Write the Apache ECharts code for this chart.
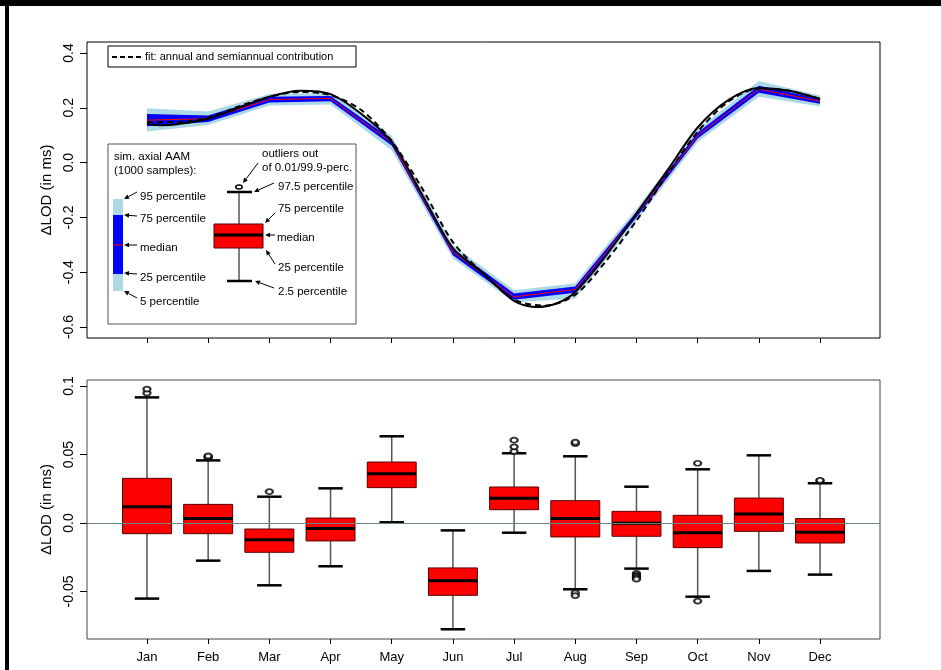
<!DOCTYPE html>
<html><head><meta charset="utf-8">
<script src="https://cdn.jsdelivr.net/npm/echarts@6/dist/echarts.min.js"></script>
<style>html,body{margin:0;padding:0;background:#fff}#c{width:941px;height:670px}</style>
</head><body><div id="c"></div>
<script>
// ---------------- data ----------------
const months = ['Jan','Feb','Mar','Apr','May','Jun','Jul','Aug','Sep','Oct','Nov','Dec'];
const monthPos = [1,2,3,4,5,6,7,8,9,10,11,12];

// top panel: simulated axial AAM percentiles (1000 samples)
const simP05    = [0.113, 0.137, 0.208, 0.212, 0.045, -0.350, -0.510, -0.496, -0.212, 0.075, 0.240, 0.205];
const simP25    = [0.133, 0.148, 0.219, 0.224, 0.062, -0.338, -0.500, -0.475, -0.200, 0.088, 0.255, 0.215];
const simMedian = [0.155, 0.160, 0.230, 0.234, 0.073, -0.326, -0.490, -0.463, -0.190, 0.098, 0.268, 0.224];
const simP75    = [0.177, 0.172, 0.240, 0.243, 0.085, -0.314, -0.478, -0.452, -0.180, 0.110, 0.280, 0.233];
const simP95    = [0.198, 0.186, 0.250, 0.255, 0.098, -0.302, -0.466, -0.440, -0.168, 0.122, 0.298, 0.245];

// top panel: solid black curve
const obsX   = [1, 1.25, 1.5, 2, 2.5, 3, 3.5, 4, 4.5, 5, 5.5, 6, 6.5, 7, 7.35, 7.7, 8, 8.5, 9, 9.5, 10, 10.5, 11, 11.5, 12];
const obsLOD = [0.142, 0.136, 0.140, 0.160, 0.200, 0.240, 0.262, 0.250, 0.178, 0.075, -0.118, -0.312, -0.405, -0.505, -0.527, -0.513, -0.472, -0.340, -0.185, -0.030, 0.128, 0.228, 0.272, 0.262, 0.232];

// top panel: dashed fit (annual and semiannual contribution)
const fitX   = [1, 1.5, 2, 2.5, 3, 3.5, 4, 4.5, 5, 5.5, 6, 6.5, 7, 7.5, 8, 8.5, 9, 9.5, 10, 10.5, 11, 11.5, 12];
const fitLOD = [0.148, 0.148, 0.165, 0.205, 0.240, 0.258, 0.246, 0.192, 0.078, -0.095, -0.290, -0.405, -0.500, -0.522, -0.482, -0.360, -0.212, -0.045, 0.112, 0.222, 0.270, 0.262, 0.232];

// bottom panel: box plots
const whiskerLow  = [-0.0552, -0.0275, -0.0455, -0.0316, 0.0005, -0.0776, -0.0071, -0.0484, -0.0333, -0.0538, -0.0350, -0.0377];
const boxQ1       = [-0.0078, -0.0078, -0.0214, -0.0131, 0.0258, -0.0528, 0.0097, -0.0102, -0.0097, -0.0180, -0.0061, -0.0146];
const boxMedian   = [0.0119, 0.0032, -0.0122, -0.0041, 0.0360, -0.0421, 0.0180, 0.0032, -0.0002, -0.0071, 0.0066, -0.0068];
const boxQ3       = [0.0326, 0.0136, -0.0044, 0.0036, 0.0445, -0.0328, 0.0263, 0.0163, 0.0085, 0.0056, 0.0182, 0.0032];
const whiskerHigh = [0.0917, 0.0457, 0.0192, 0.0253, 0.0633, -0.0054, 0.0509, 0.0487, 0.0265, 0.0392, 0.0494, 0.0290];
const outlierMonth = [1, 1, 2, 2, 2, 3, 7, 7, 7, 8, 8, 8, 8, 9, 9, 9, 9, 9, 10, 10, 12, 12];
const outlierValue = [0.0949, 0.0978, 0.0475, 0.0483, 0.0490, 0.0229, 0.0522, 0.0556, 0.0605, 0.0580, 0.0590, -0.0510, -0.0530, -0.0368, -0.0380, -0.0390, -0.0400, -0.0410, 0.0436, -0.0570, 0.0307, 0.0312];

// tick labels
const topTicks = [-0.6, -0.4, -0.2, 0, 0.2, 0.4];
const topTickLabels = ['-0.6', '-0.4', '-0.2', '0.0', '0.2', '0.4'];
const bottomTicks = [-0.05, 0, 0.05, 0.1];
const bottomTickLabels = ['-0.05', '0.0', '0.05', '0.1'];

// ---------------- chart ----------------
const FONT = 'Liberation Sans, Arial, Helvetica, sans-serif';
function lookup(ticks, labels, v) {
  let best = 0;
  for (let i = 1; i < ticks.length; i++) if (Math.abs(ticks[i] - v) < Math.abs(ticks[best] - v)) best = i;
  return labels[best];
}
function band(lo, hi, color) {
  return {
    type: 'custom', xAxisIndex: 0, yAxisIndex: 0, data: [[1, 0]], silent: true, z: 2,
    renderItem: function (params, api) {
      const pts = [];
      for (let i = 0; i < monthPos.length; i++) pts.push(api.coord([monthPos[i], hi[i]]));
      for (let i = monthPos.length - 1; i >= 0; i--) pts.push(api.coord([monthPos[i], lo[i]]));
      return { type: 'polygon', shape: { points: pts }, style: { fill: color } };
    }
  };
}
function arrow(x1, y1, x2, y2) {
  const a = Math.atan2(y2 - y1, x2 - x1), L = 5, W = 2.3;
  const bx = x2 - L * Math.cos(a), by = y2 - L * Math.sin(a);
  const px = -Math.sin(a) * W, py = Math.cos(a) * W;
  return [
    { type: 'line', z: 101, shape: { x1: x1, y1: y1, x2: bx, y2: by }, style: { stroke: '#000', lineWidth: 1 } },
    { type: 'polygon', z: 101, shape: { points: [[x2, y2], [bx + px, by + py], [bx - px, by - py]] }, style: { fill: '#000' } }
  ];
}
function txt(t, x, y, size) {
  return { type: 'text', z: 101, style: { text: t, x: x, y: y, fill: '#000', fontSize: size || 11.5, fontFamily: FONT, align: 'left', verticalAlign: 'middle' } };
}
function ln(x1, y1, x2, y2, w, c) {
  return { type: 'line', z: 101, shape: { x1: x1, y1: y1, x2: x2, y2: y2 }, style: { stroke: c || '#000', lineWidth: w } };
}

const graphics = [
  { type: 'rect', z: 100, shape: { x: 0, y: 0, width: 941, height: 6 }, style: { fill: '#000' } },
  { type: 'rect', z: 100, shape: { x: 5, y: 0, width: 4, height: 670 }, style: { fill: '#000' } },
  // top legend
  { type: 'rect', z: 100, shape: { x: 108, y: 46, width: 248, height: 21 }, style: { fill: '#fff', stroke: '#000', lineWidth: 1 } },
  { type: 'line', z: 101, shape: { x1: 112, y1: 57, x2: 141, y2: 57 }, style: { stroke: '#000', lineWidth: 2, lineDash: [5, 3] } },
  txt('fit: annual and semiannual contribution', 145, 57, 11),
  // inset legend
  { type: 'rect', z: 100, shape: { x: 108, y: 144, width: 248, height: 180 }, style: { fill: '#fff', stroke: '#555', lineWidth: 1 } },
  txt('sim. axial AAM', 114, 157), txt('(1000 samples):', 114, 171),
  { type: 'rect', z: 101, shape: { x: 113, y: 199, width: 10, height: 92 }, style: { fill: '#ADD8E6' } },
  { type: 'rect', z: 101, shape: { x: 113, y: 215, width: 10, height: 59 }, style: { fill: '#0000FF' } },
  ln(113, 245, 123, 245, 1, '#ff0000'),
  txt('95 percentile', 140, 197), txt('75 percentile', 140, 219), txt('median', 140, 248),
  txt('25 percentile', 140, 278), txt('5 percentile', 140, 302),
  ...arrow(137, 192, 124, 199), ...arrow(137, 216, 124, 215), ...arrow(137, 245, 124, 245),
  ...arrow(137, 274, 124, 273), ...arrow(137, 298, 124, 291),
  { type: 'ellipse', z: 101, shape: { cx: 239, cy: 187, rx: 3.2, ry: 2 }, style: { fill: '#fff', stroke: '#000', lineWidth: 1.5 } },
  ln(239, 192, 239, 281, 1),
  ln(227, 192, 252, 192, 2.5), ln(227, 281, 252, 281, 2.5),
  { type: 'rect', z: 101, shape: { x: 214, y: 224, width: 49, height: 24 }, style: { fill: '#ff0000', stroke: '#500', lineWidth: 1 } },
  ln(214, 235, 263, 235, 3),
  txt('outliers out', 262, 154), txt('of 0.01/99.9-perc.', 262, 168),
  txt('97.5 percentile', 278, 187), txt('75 percentile', 278, 209), txt('median', 277, 238),
  txt('25 percentile', 278, 268), txt('2.5 percentile', 278, 292),
  ...arrow(258, 163, 243, 183), ...arrow(274, 183, 254, 192), ...arrow(275, 213, 265, 223),
  ...arrow(275, 235, 265, 235), ...arrow(275, 264, 266, 250), ...arrow(274, 288, 255, 281)
];

const xCommon = {
  type: 'value', min: 0.02, max: 12.98,
  axisLine: { show: false, onZero: false }, splitLine: { show: false },
  axisTick: { show: true, customValues: monthPos, length: 5, lineStyle: { color: '#000', width: 1 } }
};
const yCommon = {
  type: 'value', axisLine: { show: false, onZero: false }, splitLine: { show: false },
  nameLocation: 'middle', nameRotate: 90, nameGap: 32,
  nameTextStyle: { fontSize: 15, fontFamily: FONT, color: '#000' }
};

const option = {
  animation: false,
  backgroundColor: '#fff',
  grid: [
    { left: 87, top: 42, width: 793, height: 296, show: true, borderColor: '#000', borderWidth: 1, backgroundColor: 'transparent', outerBoundsMode: 'none' },
    { left: 87, top: 380, width: 793, height: 259, show: true, borderColor: '#444', borderWidth: 1, backgroundColor: 'transparent', outerBoundsMode: 'none' }
  ],
  xAxis: [
    Object.assign({}, xCommon, { gridIndex: 0, axisLabel: { show: false } }),
    Object.assign({}, xCommon, { gridIndex: 1, axisLabel: { show: true, customValues: monthPos, formatter: v => months[Math.round(v) - 1], fontSize: 13, fontFamily: FONT, color: '#000', margin: 12 } })
  ],
  yAxis: [
    Object.assign({}, yCommon, {
      gridIndex: 0, min: -0.64, max: 0.44, name: 'ΔLOD (in ms)',
      axisTick: { show: true, customValues: topTicks, length: 7, lineStyle: { color: '#000' } },
      axisLabel: { customValues: topTicks, formatter: v => lookup(topTicks, topTickLabels, v), rotate: 90, fontSize: 14, fontFamily: FONT, color: '#000', margin: 11 }
    }),
    Object.assign({}, yCommon, {
      gridIndex: 1, min: -0.0847, max: 0.1044, name: 'ΔLOD (in ms)',
      axisTick: { show: true, customValues: bottomTicks, length: 7, lineStyle: { color: '#000' } },
      axisLabel: { customValues: bottomTicks, formatter: v => lookup(bottomTicks, bottomTickLabels, v), rotate: 90, fontSize: 14, fontFamily: FONT, color: '#000', margin: 11 }
    })
  ],
  series: [
    band(simP05, simP95, '#ADD8E6'),
    band(simP25, simP75, '#0000FF'),
    { type: 'line', xAxisIndex: 0, yAxisIndex: 0, z: 3, symbol: 'none', silent: true,
      data: monthPos.map((x, i) => [x, simMedian[i]]), lineStyle: { color: '#ff0000', width: 1 } },
    { type: 'line', xAxisIndex: 0, yAxisIndex: 0, z: 4, symbol: 'none', silent: true, smooth: 0.3,
      data: obsX.map((x, i) => [x, obsLOD[i]]), lineStyle: { color: '#000', width: 2 } },
    { type: 'line', xAxisIndex: 0, yAxisIndex: 0, z: 5, symbol: 'none', silent: true, smooth: 0.3,
      data: fitX.map((x, i) => [x, fitLOD[i]]), lineStyle: { color: '#000', width: 2, type: [6, 4] } },
    // zero line
    { type: 'line', xAxisIndex: 1, yAxisIndex: 1, z: 1, data: [], silent: true,
      markLine: { silent: true, symbol: 'none', label: { show: false }, lineStyle: { color: '#6f8585', type: 'solid', width: 1 }, data: [{ yAxis: 0 }] } },
    { type: 'custom', xAxisIndex: 1, yAxisIndex: 1, z: 3, silent: true,
      data: monthPos.map((x, i) => [x, whiskerLow[i], boxQ1[i], boxMedian[i], boxQ3[i], whiskerHigh[i]]),
      encode: { x: 0, y: [1, 2, 3, 4, 5] },
      renderItem: function (params, api) {
        const x = api.value(0);
        const lo = api.coord([x, api.value(1)]), q1 = api.coord([x, api.value(2)]), md = api.coord([x, api.value(3)]);
        const q3 = api.coord([x, api.value(4)]), hi = api.coord([x, api.value(5)]);
        const bw = api.size([0.8, 0])[0], cw = api.size([0.4, 0])[0];
        const cx = md[0];
        return { type: 'group', children: [
          { type: 'line', shape: { x1: cx, y1: lo[1], x2: cx, y2: hi[1] }, style: { stroke: '#555', lineWidth: 1.5 } },
          { type: 'line', shape: { x1: cx - cw / 2, y1: lo[1], x2: cx + cw / 2, y2: lo[1] }, style: { stroke: '#000', lineWidth: 2.5 } },
          { type: 'line', shape: { x1: cx - cw / 2, y1: hi[1], x2: cx + cw / 2, y2: hi[1] }, style: { stroke: '#000', lineWidth: 2.5 } },
          { type: 'rect', shape: { x: cx - bw / 2, y: q3[1], width: bw, height: q1[1] - q3[1] }, style: { fill: '#ff0000', stroke: '#5a0000', lineWidth: 1 } },
          { type: 'line', shape: { x1: cx - bw / 2, y1: md[1], x2: cx + bw / 2, y2: md[1] }, style: { stroke: '#000', lineWidth: 3 } }
        ] };
      }
    },
    { type: 'scatter', xAxisIndex: 1, yAxisIndex: 1, z: 4, silent: true, symbol: 'emptyCircle', symbolSize: [7, 5],
      data: outlierMonth.map((m, i) => [m, outlierValue[i]]), itemStyle: { color: '#000', borderWidth: 1.3 } }
  ],
  graphic: { elements: graphics }
};

const chart = echarts.init(document.getElementById('c'), null, { renderer: 'canvas' });
chart.setOption(option);
</script>
</body></html>
